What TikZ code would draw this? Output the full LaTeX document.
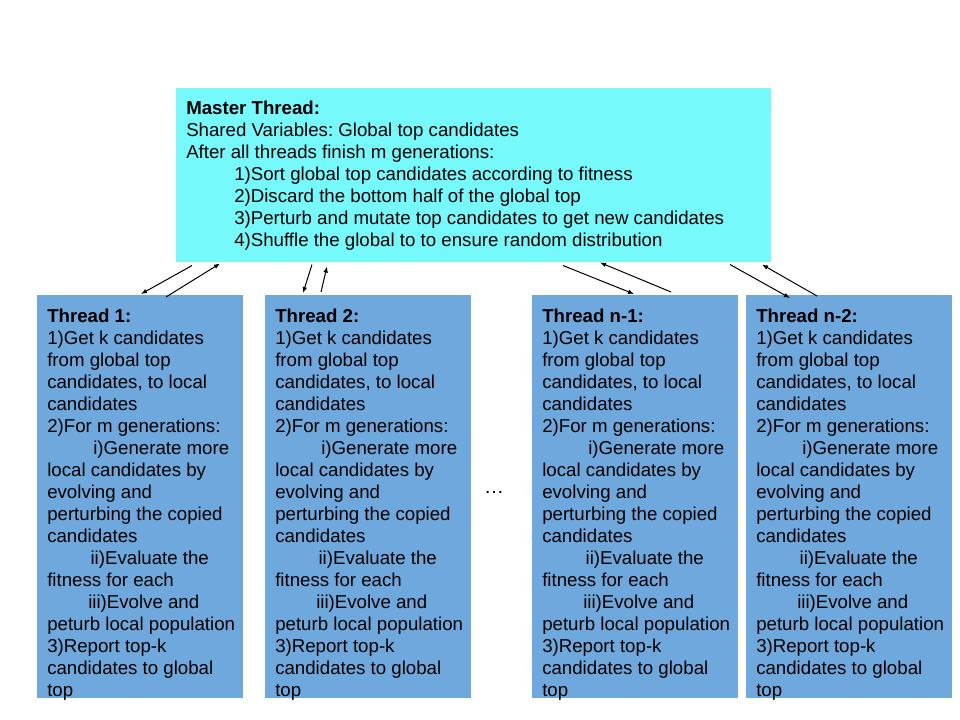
\documentclass[tikz,border=0pt]{standalone}
\usepackage{fontspec}
\setmainfont{Liberation Sans}
\usepackage{xcolor}
\usepackage{tikz}
\usetikzlibrary{arrows.meta,calc}
\definecolor{mastercyan}{HTML}{76F9FB}
\definecolor{threadblue}{HTML}{6FA8DC}
\frenchspacing

% steps shared by every worker thread
\newcommand{\threadsteps}{%
  1)Get k candidates\\
  from global top\\
  candidates, to local\\
  candidates\\
  2)For m generations:\\
  \hspace*{34.5pt}i)Generate more\\
  local candidates by\\
  evolving and\\
  perturbing the copied\\
  candidates\\
  \hspace*{32.5pt}ii)Evaluate the\\
  fitness for each\\
  \hspace*{30.75pt}iii)Evolve and\\
  peturb local population\\
  3)Report top-k\\
  candidates to global\\
  top}

\begin{document}
\begin{tikzpicture}[x=0.75pt,y=-0.75pt,
  masterbox/.style={anchor=north west,fill=mastercyan,inner sep=0pt,minimum width=446.25pt,minimum height=130.5pt},
  threadbox/.style={anchor=north west,fill=threadblue,inner sep=0pt,minimum width=154.5pt,minimum height=302.25pt},
  txt/.style={anchor=north west,inner sep=0pt,align=left,font=\fontsize{14pt}{16.5pt}\selectfont},
  link/.style={-{Latex[length=4.5pt,width=3.5pt]},line width=0.75pt}]
  \useasboundingbox (0,0) rectangle (960,720);
  % master
  \node[masterbox] (m) at (176,88) {};
  \node[txt] (mtxt) at ($(m.north west)+(10,10)$) {\rule{0pt}{12pt}\textbf{Master Thread:}\\
    Shared Variables: Global top candidates\\
    After all threads finish m generations:\\
    \hspace*{36pt}1)Sort global top candidates according to fitness\\
    \hspace*{36pt}2)Discard the bottom half of the global top\\
    \hspace*{36pt}3)Perturb and mutate top candidates to get new candidates\\
    \hspace*{36pt}4)Shuffle the global to to ensure random distribution};
  % workers
  \foreach \nm/\x/\ttl in {t1/37/Thread 1:, t2/265/Thread 2:, t3/532/Thread n-1:, t4/746/Thread n-2:}{
    \node[threadbox] (\nm) at (\x,295) {};
    \node[txt] (\nm txt) at ($(\nm.north west)+(10,11)$) {\rule{0pt}{12pt}\textbf{\ttl}\\ \threadsteps};
  }
  \node[inner sep=0pt,font=\fontsize{15pt}{18pt}\selectfont] (dots) at (494,492) {…};
  % links master <-> workers
  \draw[link] ($(m.south west)+(16,3)$) -- ($(t1.north west)+(104,-1)$);
  \draw[link] ($(t1.north west)+(129,2)$) -- ($(m.south west)+(44,1)$);
  \draw[link] ($(m.south west)+(136,2)$) -- ($(t2.north west)+(38,-2)$);
  \draw[link] ($(t2.north west)+(56,-3)$) -- ($(m.south west)+(151,4)$);
  \draw[link] ($(m.south west)+(387,3)$) -- ($(t3.north west)+(102,-1)$);
  \draw[link] ($(t3.north west)+(139,-3)$) -- ($(m.south west)+(424,0)$);
  \draw[link] ($(m.south west)+(554,2)$) -- ($(t4.north west)+(44,3)$);
  \draw[link] ($(t4.north west)+(71,1)$) -- ($(m.south west)+(586,2)$);
\end{tikzpicture}
\end{document}
